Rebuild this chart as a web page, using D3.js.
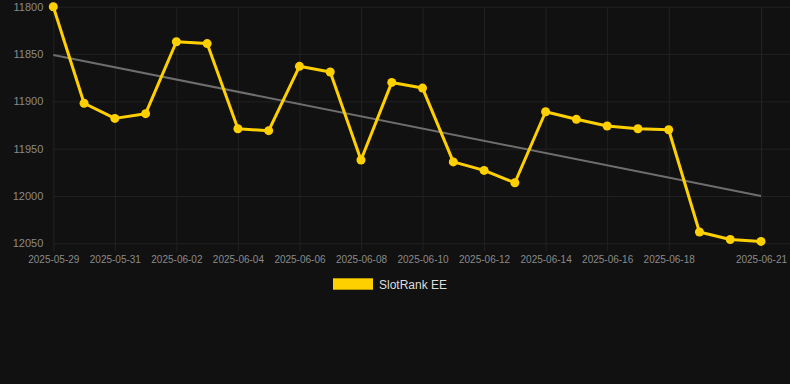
<!DOCTYPE html>
<html><head><meta charset="utf-8">
<script src="https://cdn.jsdelivr.net/npm/d3@7"></script>
<style>html,body{margin:0;padding:0;background:#111111;}svg{display:block;}</style>
</head><body>
<svg id="c" width="790" height="384"></svg>
<script>
const dates = ["2025-05-29","2025-05-30","2025-05-31","2025-06-01","2025-06-02","2025-06-03","2025-06-04","2025-06-05","2025-06-06","2025-06-07","2025-06-08","2025-06-09","2025-06-10","2025-06-11","2025-06-12","2025-06-13","2025-06-14","2025-06-15","2025-06-16","2025-06-17","2025-06-18","2025-06-19","2025-06-20","2025-06-21"];
const rankValues = [11800,11902,11918,11913,11837,11839,11929,11931,11863,11869,11962,11880,11886,11964,11973,11986,11911,11919,11926,11929,11930,12038,12046,12048];
const trendDates = ["2025-05-29","2025-06-21"];
const trendValues = [11851,12000];
const xTickLabels = ["2025-05-29","2025-05-31","2025-06-02","2025-06-04","2025-06-06","2025-06-08","2025-06-10","2025-06-12","2025-06-14","2025-06-16","2025-06-18","2025-06-21"];
const yTicks = [11800,11850,11900,11950,12000,12050];
const seriesName = "SlotRank EE";

(function () {
const parse = d3.timeParse("%Y-%m-%d");
const svg = d3.select("#c");
const mLeft = 53.3, mRight = 790, mTop = 6.7, mBottom = 243.3;

const x = d3.scaleTime().domain([parse(dates[0]), parse(dates[dates.length-1])]).range([mLeft, 761]);
const y = d3.scaleLinear().domain([11800, 12050]).range([mTop, mBottom]);

const gridColor = "#222222";
const labelColor = "#8a8a8a";

// Y axis grid + labels
const yAxis = d3.axisLeft(y).tickValues(yTicks).tickSize(0).tickPadding(2).tickFormat(d3.format("d"));
const gy = svg.append("g").attr("transform", `translate(${mLeft - 8},0)`).call(yAxis);
gy.select(".domain").remove();
gy.selectAll(".tick line").attr("stroke", gridColor).attr("stroke-width", 1).attr("x1", 8).attr("x2", mRight - mLeft + 8);
gy.selectAll(".tick text").attr("fill", labelColor).attr("font-family", "Liberation Sans, Arial, sans-serif").attr("font-size", 11).attr("x", -2);

// X axis grid + labels
const xAxis = d3.axisBottom(x).tickValues(xTickLabels.map(parse)).tickSize(-(mBottom - mTop + 8)).tickPadding(8).tickFormat(d3.timeFormat("%Y-%m-%d"));
const gx = svg.append("g").attr("transform", `translate(0,${mBottom + 8})`).call(xAxis);
gx.select(".domain").remove();
gx.selectAll(".tick line").attr("stroke", gridColor).attr("stroke-width", 1);
gx.selectAll(".tick text").attr("fill", labelColor).attr("font-family", "Liberation Sans, Arial, sans-serif").attr("font-size", 10).attr("y", 5);

// trend line
const line = d3.line().x(d => x(d[0])).y(d => y(d[1]));
svg.append("path")
  .datum(trendDates.map((d, i) => [parse(d), trendValues[i]]))
  .attr("d", line).attr("fill", "none").attr("stroke", "#6e6e6e").attr("stroke-width", 2);

// main series
const pts = dates.map((d, i) => [parse(d), rankValues[i]]);
svg.append("path").datum(pts).attr("d", line)
  .attr("fill", "none").attr("stroke", "#FFD000").attr("stroke-width", 3).attr("stroke-linejoin", "round");
svg.append("g").selectAll("circle").data(pts).join("circle")
  .attr("cx", d => x(d[0])).attr("cy", d => y(d[1])).attr("r", 4.5).attr("fill", "#FFD000");

// legend
const lg = svg.append("g");
lg.append("rect").attr("x", 333).attr("y", 278.3).attr("width", 40).attr("height", 11.4).attr("fill", "#FFD000");
lg.append("text").attr("x", 379).attr("y", 288.5).text(seriesName)
  .attr("fill", "#dddddd").attr("font-family", "Liberation Sans, Arial, sans-serif").attr("font-size", 12);
})();
</script>
</body></html>
